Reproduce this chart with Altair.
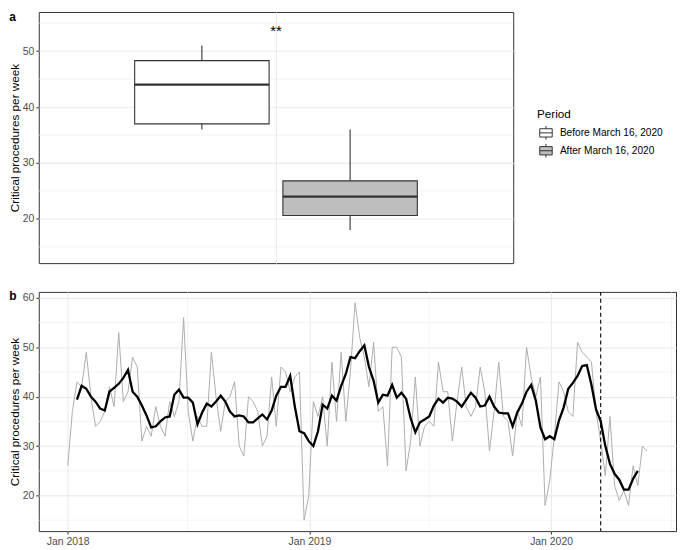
import altair as alt
import pandas as pd

# ---------------- data ----------------
# panel b: weekly critical procedures, weekly from 2018-01-01
weekly_counts = [
    26, 37, 43, 42, 49, 40, 34, 35, 37, 42,
    38, 53, 39, 41, 48, 46, 31, 34, 32, 38,
    34, 32, 39, 36, 39, 56, 37, 31, 36, 34,
    34, 49, 40, 33, 39, 40, 43, 30, 28, 40,
    39, 37, 30, 32, 44, 34, 46, 45, 41, 44,
    45, 15, 20, 39, 36, 40, 30, 47, 35, 49,
    35, 45, 59, 52, 48, 42, 51, 37, 38, 26,
    50, 50, 48, 25, 31, 44, 30, 34, 35, 34,
    47, 41, 41, 31, 39, 46, 38, 36, 38, 46,
    41, 29, 37, 47, 36, 35, 28, 37, 34, 50,
    44, 40, 44, 18, 23, 32, 43, 41, 37, 36,
    51, 49, 48, 47, 37, 31, 24, 36, 22, 19,
    21, 18, 26, 22, 30, 29,
]
first_week = "2018-01-01"
policy_date = "2020-03-16"
x_tick_dates = ["2018-01-01", "2019-01-01", "2020-01-01"]
x_minor_dates = ["2018-07-01", "2019-07-01", "2020-07-01"]
y_minor_b = [15, 25, 35, 45, 55]

# panel a: box plot summaries
periods = ["Before March 16, 2020", "After March 16, 2020"]
box_lower = [36, 18]
box_q1 = [37, 20.6]
box_median = [44, 24]
box_q3 = [48.3, 26.8]
box_upper = [51, 36]
sig_label = ["**"]
sig_y = [53.6]
y_minor_a = [15, 25, 35, 45, 55]

# ---------------- styles ----------------
FONT = "Liberation Sans"
W_A, H_A = 478, 253
W_B, H_B = 642, 241
GRID = "#EBEBEB"
DARK = "#333333"
YTITLE = "Critical procedures per week"

dates = pd.date_range(first_week, periods=len(weekly_counts), freq="7D")
ts = pd.DataFrame({"date": dates, "n": weekly_counts})
box_df = pd.DataFrame({
    "grp": [""] * len(periods), "Period": periods,
    "lower": box_lower, "q1": box_q1, "median": box_median,
    "q3": box_q3, "upper": box_upper,
})
sig_df = pd.DataFrame({"grp": [""], "label": sig_label, "y": sig_y})

# ---------------- panel a ----------------
ya_scale = alt.Scale(domain=[12.1, 57], nice=False, zero=False)
ya_axis = alt.Axis(values=[20, 30, 40, 50], grid=True)
xa = alt.X("grp:N", title=None,
           scale=alt.Scale(paddingInner=0, paddingOuter=0),
           axis=alt.Axis(labels=False, ticks=False, domain=False, grid=True,
                         bandPosition=0.5))
xoff = alt.XOffset("Period:N", sort=periods,
                   scale=alt.Scale(domain=periods, paddingInner=0.093, paddingOuter=0.647))


def ya(field):
    return alt.Y(field, type="quantitative", scale=ya_scale, axis=ya_axis, title=YTITLE)


minor_a = alt.Chart(pd.DataFrame({"v": y_minor_a})).mark_rule(
    color=GRID, strokeWidth=0.55).encode(y=ya("v"))

whisk = alt.Chart(box_df).mark_rule(color=DARK, strokeWidth=1.1).encode(
    x=xa, xOffset=xoff, y=ya("lower"), y2="upper")

boxes = alt.Chart(box_df).mark_bar(stroke=DARK, strokeWidth=1.1).encode(
    x=xa, xOffset=xoff, y=ya("q1"), y2="q3",
    fill=alt.Fill("Period:N", sort=periods,
                  scale=alt.Scale(domain=periods, range=["#FFFFFF", "#BEBEBE"]),
                  legend=alt.Legend(
                      title="Period", orient="none", legendX=W_A + 24, legendY=98,
                      symbolType="M-0.75,-0.5H0.75V0.5H-0.75Z M-0.75,0H0.75 M0,-0.5V-0.82 M0,0.5V0.82",
                      symbolSize=280, symbolStrokeColor=DARK, symbolStrokeWidth=1,
                      labelFont=FONT, labelFontSize=10.2, labelColor="black", labelOffset=5,
                      titleFont=FONT, titleFontSize=11.8, titleFontWeight="normal",
                      titleColor="black", titlePadding=3, rowPadding=0)))

medians = alt.Chart(box_df).mark_bar(stroke=DARK, strokeWidth=2.2, fill=DARK).encode(
    x=xa, xOffset=xoff, y=ya("median"), y2="median")

sig = alt.Chart(sig_df).mark_text(font=FONT, fontSize=15, color="black",
                                  baseline="middle").encode(
    x=xa, y=ya("y"), text="label:N")

panel_a = alt.layer(minor_a, whisk, boxes, medians, sig).properties(
    width=W_A, height=H_A,
    title=alt.TitleParams("a", anchor="start", frame="bounds", fontSize=12,
                          fontWeight="bold", font=FONT, color="black",
                          baseline="top", offset=0, dy=12))

# ---------------- panel b ----------------
xb_scale = alt.Scale(domain=[alt.DateTime(year=2017, month=11, date=18, hours=6),
                             alt.DateTime(year=2020, month=7, date=7, hours=18)],
                     nice=False)
xb_axis = alt.Axis(values=[alt.DateTime(year=int(d[:4]), month=int(d[5:7]), date=int(d[8:]))
                           for d in x_tick_dates],
                   format="%b %Y", grid=True)
yb_scale = alt.Scale(domain=[12.8, 61.2], nice=False, zero=False)
yb_axis = alt.Axis(values=[20, 30, 40, 50, 60], grid=True)


def xb(field):
    return alt.X(field, type="temporal", scale=xb_scale, axis=xb_axis, title=None)


def yb(field):
    return alt.Y(field, type="quantitative", scale=yb_scale, axis=yb_axis, title=YTITLE)


minor_by = alt.Chart(pd.DataFrame({"v": y_minor_b})).mark_rule(
    color=GRID, strokeWidth=0.55).encode(y=yb("v"))
minor_bx = alt.Chart(pd.DataFrame({"d": pd.to_datetime(x_minor_dates)})).mark_rule(
    color=GRID, strokeWidth=0.55).encode(x=xb("d"))

raw = alt.Chart(ts).mark_line(color="#ADADAD", strokeWidth=1).encode(
    x=xb("date"), y=yb("n"))

smooth = alt.Chart(ts).transform_window(
    ma="mean(n)", cnt="count(n)", frame=[-2, 2], sort=[alt.SortField("date")]
).transform_filter("datum.cnt == 5").mark_line(
    color="black", strokeWidth=2.3).encode(x=xb("date"), y=yb("ma:Q"))

vline = alt.Chart(pd.DataFrame({"d": pd.to_datetime([policy_date])})).mark_rule(
    color="black", strokeWidth=1.1, strokeDash=[4, 3]).encode(x=xb("d"))

panel_b = alt.layer(minor_by, minor_bx, raw, smooth, vline).properties(
    width=W_B, height=H_B,
    title=alt.TitleParams("b", anchor="start", frame="bounds", fontSize=12,
                          fontWeight="bold", font=FONT, color="black",
                          baseline="top", offset=0, dy=12))

chart = alt.vconcat(panel_a, panel_b, spacing=25).resolve_scale(
    x="independent", y="independent", fill="independent"
).properties(padding=0).configure_view(
    stroke=DARK, strokeWidth=1
).configure_axis(
    labelFont=FONT, labelFontSize=10.5, labelColor="#4D4D4D",
    tickColor=DARK, tickSize=3, tickWidth=1, domain=False,
    gridColor=GRID, gridWidth=1.1, labelPadding=2,
    titleFont=FONT, titleFontSize=11.8, titleFontWeight="normal",
    titleColor="black", titlePadding=2,
).configure_title(font=FONT)

chart.save("out.html", embed_options={"renderer": "svg", "actions": False})
